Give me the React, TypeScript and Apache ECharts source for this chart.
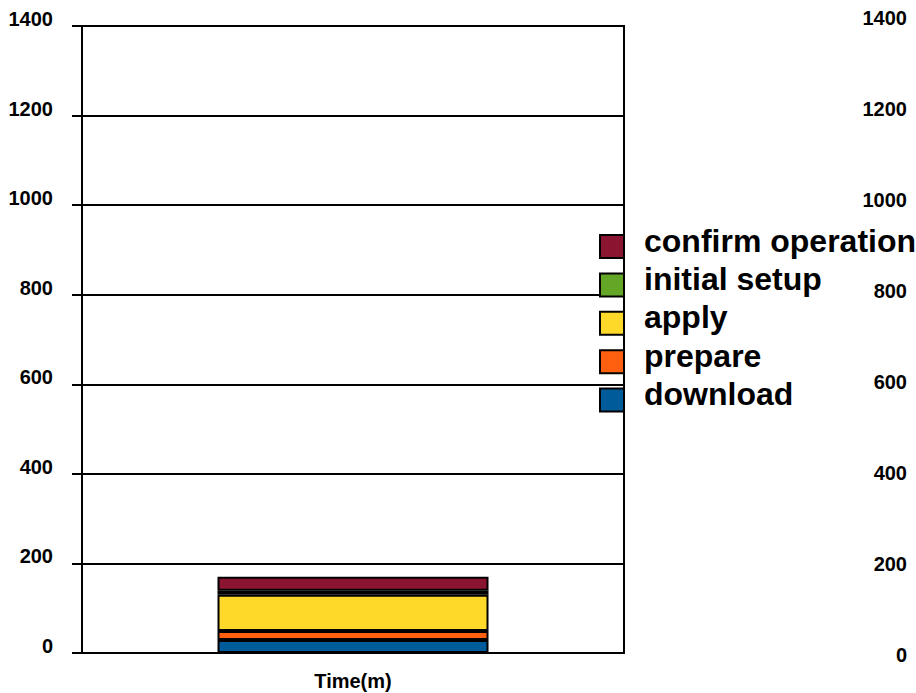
import React, { useEffect, useRef } from "react";
import * as echarts from "echarts";

const categories = ["Time(m)"];
const seriesNames = ["download", "prepare", "apply", "initial setup", "confirm operation"];
const download = [29];
const prepare = [20];
const apply = [81];
const initialSetup = [9];
const confirmOperation = [31];
const seriesColors = ["#005B9A", "#FF6010", "#FFD92A", "#64A625", "#8B1530"];
const legendOrder = ["confirm operation", "initial setup", "apply", "prepare", "download"];
const yMin = 0;
const yMax = 1400;
const yInterval = 200;

const FONT = '"Liberation Sans", Arial, Helvetica, sans-serif';

export default function App() {
  const ref = useRef<HTMLDivElement>(null);
  useEffect(() => {
    if (!ref.current) return;
    const chart = echarts.init(ref.current, undefined, { renderer: "svg" });
    const values = [download, prepare, apply, initialSetup, confirmOperation];
    chart.setOption({
      animation: false,
      backgroundColor: "#ffffff",
      textStyle: { fontFamily: FONT },
      grid: [
        {
          left: 82,
          right: 292,
          top: 26,
          bottom: 40,
          show: true,
          borderColor: "#000",
          borderWidth: 2,
          backgroundColor: "transparent",
        },
        { left: 82, right: 292, top: 17.5, bottom: 38 },
      ],
      legend: {
        orient: "vertical",
        left: 599,
        top: 224.5,
        padding: 0,
        itemGap: -5.6,
        itemWidth: 24,
        itemHeight: 23,
        icon: "rect",
        data: legendOrder,
        formatter: (name: string) => "{t|" + name + "}",
        textStyle: {
          fontFamily: FONT,
          fontSize: 32,
          fontWeight: "bold",
          color: "#000",
          rich: {
            t: {
              fontFamily: FONT,
              fontSize: 32,
              fontWeight: "bold",
              color: "#000",
              lineHeight: 26.4,
              padding: [0, 0, 12, 15],
            },
          },
        },
      },
      xAxis: [
        {
          type: "category",
          gridIndex: 0,
          data: categories,
          axisLine: { lineStyle: { color: "#000", width: 2 } },
          axisTick: { alignWithLabel: true, length: 12, lineStyle: { color: "#000", width: 2 } },
          axisLabel: {
            color: "#000",
            fontFamily: FONT,
            fontSize: 20,
            fontWeight: "bold",
            margin: 18,
          },
        },
        { type: "category", gridIndex: 1, data: categories, show: false },
      ],
      yAxis: [
        {
          type: "value",
          gridIndex: 0,
          min: yMin,
          max: yMax,
          interval: yInterval,
          axisLine: { show: true, lineStyle: { color: "#000", width: 2 } },
          axisTick: { show: true, inside: false, length: 10, lineStyle: { color: "#000", width: 2 } },
          splitLine: { show: true, lineStyle: { color: "#000", width: 2 } },
          axisLabel: {
            color: "#000",
            fontFamily: FONT,
            fontSize: 20,
            fontWeight: "bold",
            margin: 29,
            verticalAlign: "bottom",
            lineHeight: 14,
            formatter: (v: number) => String(v),
          },
        },
        {
          type: "value",
          gridIndex: 1,
          position: "right",
          min: yMin,
          max: yMax,
          interval: yInterval,
          axisLine: { show: false },
          axisTick: { show: false },
          splitLine: { show: false },
          axisLabel: {
            color: "#000",
            fontFamily: FONT,
            fontSize: 20,
            fontWeight: "bold",
            align: "right",
            margin: 283,
            formatter: (v: number) => String(v),
          },
        },
      ],
      series: seriesNames.map((name, i) => ({
        name,
        type: "bar",
        stack: "total",
        xAxisIndex: 0,
        yAxisIndex: 0,
        barWidth: "50%",
        data: values[i],
        itemStyle: { color: seriesColors[i], borderColor: "#000", borderWidth: 2 },
      })),
    });
    return () => chart.dispose();
  }, []);
  return (
    <div
      ref={ref}
      style={{ position: "fixed", left: 0, top: 0, width: 916, height: 693 }}
    />
  );
}
